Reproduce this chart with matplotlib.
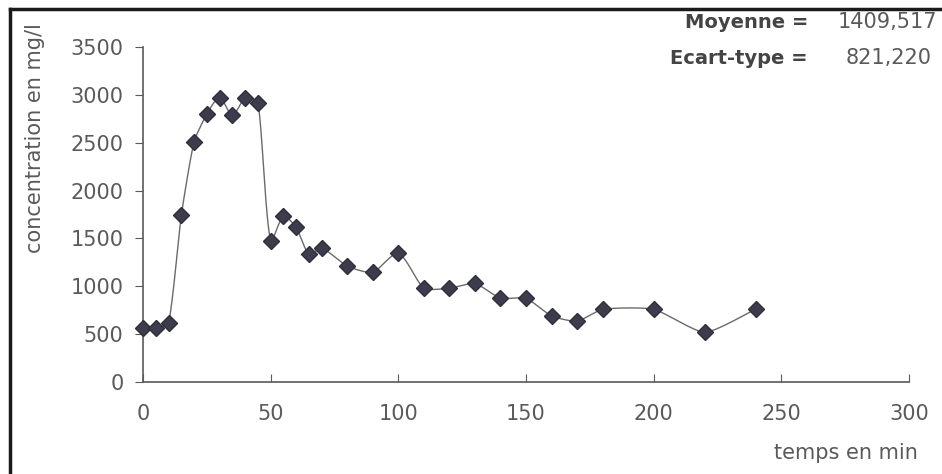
import numpy as np
import matplotlib
matplotlib.use('Agg')
import matplotlib.pyplot as plt
from matplotlib.lines import Line2D

# Data
temps = [0, 5, 10, 15, 20, 25, 30, 35, 40, 45, 50, 55, 60, 65, 70, 80, 90,
         100, 110, 120, 130, 140, 150, 160, 170, 180, 200, 220, 240]
concentration = [560, 560, 615, 1740, 2510, 2800, 2970, 2790, 2970, 2920,
                 1470, 1730, 1615, 1335, 1400, 1210, 1145, 1345, 980, 980,
                 1030, 875, 875, 690, 635, 760, 760, 520, 760]
moyenne = "1409,517"
ecart_type = "821,220"
x_ticks = [0, 50, 100, 150, 200, 250, 300]
y_ticks = [0, 500, 1000, 1500, 2000, 2500, 3000, 3500]

plt.rcParams['font.family'] = ['DejaVu Sans']
grey = '#5a5a5a'


def smooth(ax, xs, ys, n=30, k=0.55):
    # smoothed line computed in screen space, tangent length scaled by segment
    p = ax.transData.transform(np.column_stack([xs, ys]).astype(float))
    m = len(p)
    tang = np.zeros_like(p)
    for i in range(m):
        a = p[max(i - 1, 0)]
        b = p[min(i + 1, m - 1)]
        d = b - a
        tang[i] = d / (np.hypot(*d) or 1)
    out = []
    t = np.linspace(0, 1, n)[:, None]
    for i in range(m - 1):
        p1, p2 = p[i], p[i + 1]
        L = np.hypot(*(p2 - p1)) * k / 3
        c1 = p1 + tang[i] * L
        c2 = p2 - tang[i + 1] * L
        seg = ((1 - t) ** 3 * p1 + 3 * (1 - t) ** 2 * t * c1
               + 3 * (1 - t) * t ** 2 * c2 + t ** 3 * p2)
        out.append(seg)
    out = ax.transData.inverted().transform(np.vstack(out))
    return out[:, 0], out[:, 1]


fig = plt.figure(figsize=(9.42, 4.74), dpi=100)
ax = fig.add_axes([143 / 942, 1 - 382 / 474, (909 - 143) / 942, (382 - 47) / 474])
ax.set_xlim(0, 300)
ax.set_ylim(0, 3500)

sx, sy = smooth(ax, temps, concentration)
ax.plot(sx, sy, color='#6a6a6a', lw=1.0, zorder=2)
ax.plot(temps, concentration, ls='none', marker='D', ms=8,
        color='#3c3c4c', mec='#2e2e3a', zorder=3, clip_on=False)

ax.set_xticks(x_ticks)
ax.set_yticks(y_ticks)
ax.tick_params(axis='y', direction='out', length=6, color=grey, labelcolor=grey,
               labelsize=15, pad=8)
ax.tick_params(axis='x', direction='in', length=6, color=grey, labelcolor=grey,
               labelsize=15, pad=16)
for s in ['top', 'right']:
    ax.spines[s].set_visible(False)
for s in ['left', 'bottom']:
    ax.spines[s].set_color(grey)
    ax.spines[s].set_linewidth(1.2)

fig.text(35 / 942, 1 - 138 / 474, 'concentration en mg/l', rotation=90,
         ha='center', va='center', fontsize=15, color=grey)
fig.text(918 / 942, 1 - 453 / 474, 'temps en min', ha='right', va='center',
         fontsize=15, color=grey)

fig.text(808 / 942, 1 - 22 / 474, 'Moyenne =', ha='right', va='center',
         fontsize=14, fontweight='bold', color='#444444')
fig.text(808 / 942, 1 - 58 / 474, 'Ecart-type =', ha='right', va='center',
         fontsize=14, fontweight='bold', color='#444444')
fig.text(838 / 942, 1 - 22 / 474, moyenne, ha='left', va='center',
         fontsize=15, color=grey)
fig.text(846 / 942, 1 - 58 / 474, ecart_type, ha='left', va='center',
         fontsize=15, color=grey)

# frame of the scanned figure (left and top edges)
fig.add_artist(Line2D([10 / 942, 10 / 942], [0, 1 - 9 / 474],
                      transform=fig.transFigure, color='#1a1a1a', lw=2.5))
fig.add_artist(Line2D([10 / 942, 1], [1 - 9 / 474, 1 - 9 / 474],
                      transform=fig.transFigure, color='#1a1a1a', lw=2.5))

fig.savefig('out.png', dpi=100)
